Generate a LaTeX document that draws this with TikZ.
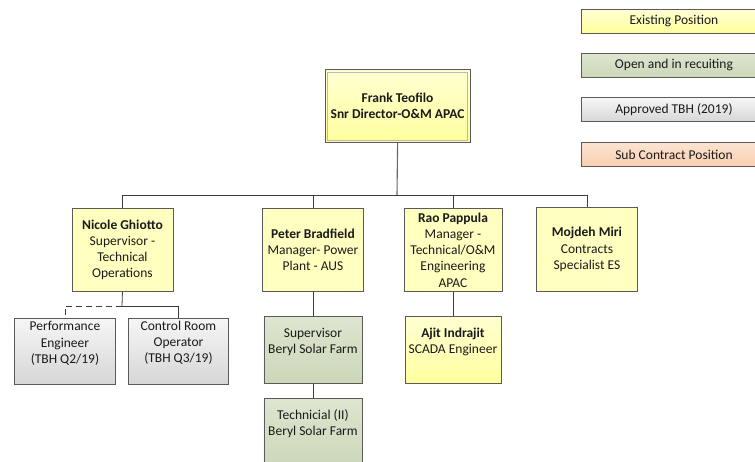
\documentclass[tikz,border=0pt]{standalone}
\usepackage{fontspec}
\setmainfont{Carlito}
\usetikzlibrary{calc}
\definecolor{ylTop}{HTML}{FFFFD2}
\definecolor{ylBot}{HTML}{FFFF9E}
\definecolor{ylFlat}{HTML}{FFFFC0}
\definecolor{grTop}{HTML}{DDE5CF}
\definecolor{grBot}{HTML}{CCD7B8}
\definecolor{gyTop}{HTML}{F6F6F6}
\definecolor{gyBot}{HTML}{D6D6D6}
\definecolor{pcTop}{HTML}{FCE4D2}
\definecolor{pcBot}{HTML}{F8CDAE}
\definecolor{bordc}{HTML}{5A5A5A}
\definecolor{linec}{HTML}{3C3C3C}
\definecolor{txtc}{HTML}{1A1A1A}
\tikzset{
  x=1pt, y=-1pt,
  boxbase/.style={draw=bordc, line width=0.9pt, inner sep=0pt, anchor=north west},
  yflat/.style={boxbase, fill=ylFlat},
  ygrad/.style={boxbase, top color=ylTop, bottom color=ylBot},
  ggrad/.style={boxbase, top color=grTop, bottom color=grBot},
  tgrad/.style={boxbase, top color=gyTop, bottom color=gyBot},
  pgrad/.style={boxbase, top color=pcTop, bottom color=pcBot},
  txt/.style={align=center, inner sep=0pt, text=txtc, font=\fontsize{13.5}{16.2}\selectfont},
  conn/.style={draw=linec, line width=0.8pt},
}
\begin{document}
\begin{tikzpicture}
\useasboundingbox (0,0) rectangle (755,462);
\clip (0,0) rectangle (755,462);

% legend
\node[ygrad, minimum width=186pt, minimum height=24pt] (lg1) at (581,9) {};
\node[txt] (lg1t) at ([xshift=-0.5pt]lg1.center) {Existing Position};
\node[ggrad, minimum width=186pt, minimum height=24pt] (lg2) at (581,53) {};
\node[txt] (lg2t) at ([xshift=-0.5pt]lg2.center) {Open and in recuiting};
\node[tgrad, minimum width=186pt, minimum height=24pt] (lg3) at (581,97.5) {};
\node[txt] (lg3t) at ([xshift=-0.5pt]lg3.center) {Approved TBH (2019)};
\node[pgrad, minimum width=186pt, minimum height=24pt] (lg4) at (581,142.5) {};
\node[txt] (lg4t) at ([xshift=-0.5pt]lg4.center) {Sub Contract Position};

% top
\node[ygrad, line width=1.2pt, minimum width=145pt, minimum height=73pt] (frank) at (324.5,69) {};
\draw[gray!55, line width=0.6pt] ([shift={(3,3)}]frank.north west) rectangle ([shift={(-3,-3)}]frank.south east);
\node[txt, font=\fontsize{13.5}{16.2}\selectfont\bfseries] (frankt) at (frank.center) {Frank Teofilo\\Snr Director-O\&M APAC};

% level 2
\node[yflat, minimum width=101pt, minimum height=83pt] (nicole) at (71.5,208) {};
\node[txt] (nicolet) at (nicole.center) {\textbf{Nicole Ghiotto}\\Supervisor -\\Technical\\Operations};
\node[yflat, minimum width=101pt, minimum height=83pt] (peter) at (262,208) {};
\node[txt] (petert) at (peter.center) {\textbf{Peter Bradfield}\\Manager- Power\\Plant - AUS};
\node[yflat, minimum width=98pt, minimum height=83pt] (rao) at (403.5,208) {};
\node[txt] (raot) at (rao.center) {\textbf{Rao Pappula}\\Manager -\\Technical/O\&M\\Engineering\\APAC};
\node[yflat, minimum width=101pt, minimum height=84pt] (mojdeh) at (536,207) {};
\node[txt] (mojdeht) at (mojdeh.center) {\textbf{Mojdeh Miri}\\Contracts\\Specialist ES};

% level 3
\node[tgrad, minimum width=101pt, minimum height=66pt] (perf) at (14,318) {};
\node[txt] (perft) at ([yshift=8pt]perf.center) {Performance\\Engineer\\(TBH Q2/19)};
\node[tgrad, minimum width=100pt, minimum height=66pt] (ctrl) at (128,318) {};
\node[txt] (ctrlt) at ([yshift=8.5pt]ctrl.center) {Control Room\\Operator\\(TBH Q3/19)};
\node[ggrad, minimum width=98pt, minimum height=67pt] (sup) at (263.5,316) {};
\node[txt] (supt) at ([yshift=8pt]sup.center) {Supervisor\\Beryl Solar Farm};
\node[ygrad, minimum width=96pt, minimum height=67pt] (ajit) at (404.5,316) {};
\node[txt] (ajitt) at ([yshift=8pt]ajit.center) {\textbf{Ajit Indrajit}\\SCADA Engineer};
\node[ggrad, minimum width=98pt, minimum height=72pt] (tech) at (263.5,398) {};
\node[txt] (techt) at ([yshift=11pt]tech.center) {Technicial (II)\\Beryl Solar Farm};

% connectors
\coordinate (bus) at (397,195);
\draw[conn, draw=gray!80!black, line width=1.1pt] (frank.south) -- (bus);
\draw[conn] (bus) -| (nicole.north);
\draw[conn] (bus) -| (peter.north);
\draw[conn] (bus) -| (rao.north);
\draw[conn] (bus) -| (mojdeh.north);
\coordinate (nbus) at (122,306);
\draw[conn] (nicole.south) -- (nbus);
\draw[conn, dashed, dash pattern=on 6pt off 4pt] (nbus) -| (perf.north);
\draw[conn] (nbus) -| (ctrl.north);
\draw[conn] (peter.south) -- (sup.north);
\draw[conn] (sup.south) -- (tech.north);
\draw[conn] (rao.south) -- (ajit.north);
\end{tikzpicture}
\end{document}
